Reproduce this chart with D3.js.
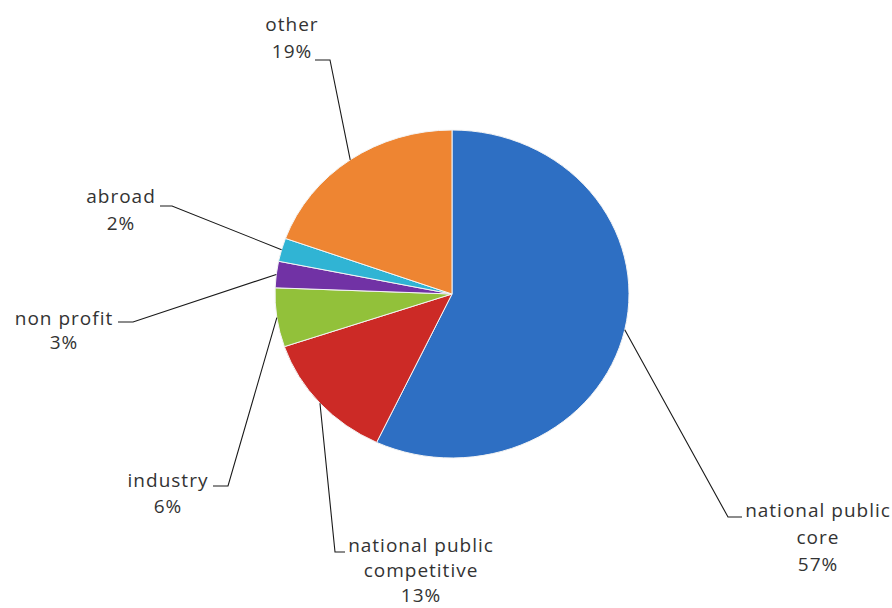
<!DOCTYPE html>
<html>
<head>
<meta charset="utf-8">
<script src="https://cdn.jsdelivr.net/npm/d3@7"></script>
<style>
  html, body { margin: 0; padding: 0; background: #ffffff; }
  svg { display: block; }
  text { font-family: "Open Sans", "DejaVu Sans", sans-serif; font-size: 19px; fill: #333333; letter-spacing: 1px; }
</style>
</head>
<body>
<svg id="chart" width="892" height="608"></svg>
<script>
// ---- data ----
const categories = ["national public core", "national public competitive", "industry", "non profit", "abroad", "other"];
const values = [57.0, 12.8, 5.8, 2.6, 2.3, 19.5];
const percentLabels = ["57%", "13%", "6%", "3%", "2%", "19%"];
const labelLines = [
  ["national public", "core"],
  ["national public", "competitive"],
  ["industry"],
  ["non profit"],
  ["abroad"],
  ["other"]
];
const colors = ["#2e6fc3", "#cc2a26", "#92c13a", "#7132a5", "#30b4d4", "#ee8532"];

// ---- layout (label anchors) ----
const labelLayout = [
  { x: 818, y: 517, step: 27, elbow: [728, 517], stub: [742, 517] },
  { x: 421, y: 552, step: 25, elbow: [335, 552], stub: [345, 552] },
  { x: 168, y: 487, step: 26, elbow: [228, 486], stub: [213, 486] },
  { x: 64,  y: 325, step: 24, elbow: [133, 322], stub: [118, 322] },
  { x: 121, y: 203, step: 27, elbow: [172, 206], stub: [160, 206] },
  { x: 292, y: 31,  step: 27, elbow: [330, 60],  stub: [315, 60] }
];

const cx = 452, cy = 294, rx = 177, ry = 164;

const svg = d3.select("#chart");

const pie = d3.pie().sort(null).value(d => d)(values);
const arc = d3.arc().innerRadius(0).outerRadius(ry);

const pieG = svg.append("g")
  .attr("transform", `translate(${cx},${cy}) scale(${rx / ry},1)`);

pieG.selectAll("path")
  .data(pie)
  .join("path")
  .attr("d", arc)
  .attr("fill", (d, i) => colors[i])
  .attr("stroke", "#f4f4f4")
  .attr("stroke-width", 1)
  .attr("vector-effect", "non-scaling-stroke");

// leader lines
const line = d3.line();
svg.append("g").selectAll("path")
  .data(pie)
  .join("path")
  .attr("d", (d, i) => {
    const a = (d.startAngle + d.endAngle) / 2;
    const p0 = [cx + rx * Math.sin(a), cy - ry * Math.cos(a)];
    const L = labelLayout[i];
    return line([p0, L.elbow, L.stub]);
  })
  .attr("fill", "none")
  .attr("stroke", "#1a1a1a")
  .attr("stroke-width", 1.1);

// labels
const labG = svg.append("g");
categories.forEach((c, i) => {
  const L = labelLayout[i];
  const lines = labelLines[i].concat([percentLabels[i]]);
  const t = labG.append("text")
    .attr("text-anchor", "middle");
  lines.forEach((s, k) => {
    t.append("tspan")
      .attr("x", L.x)
      .attr("y", L.y + k * L.step)
      .text(s);
  });
});
</script>
</body>
</html>
